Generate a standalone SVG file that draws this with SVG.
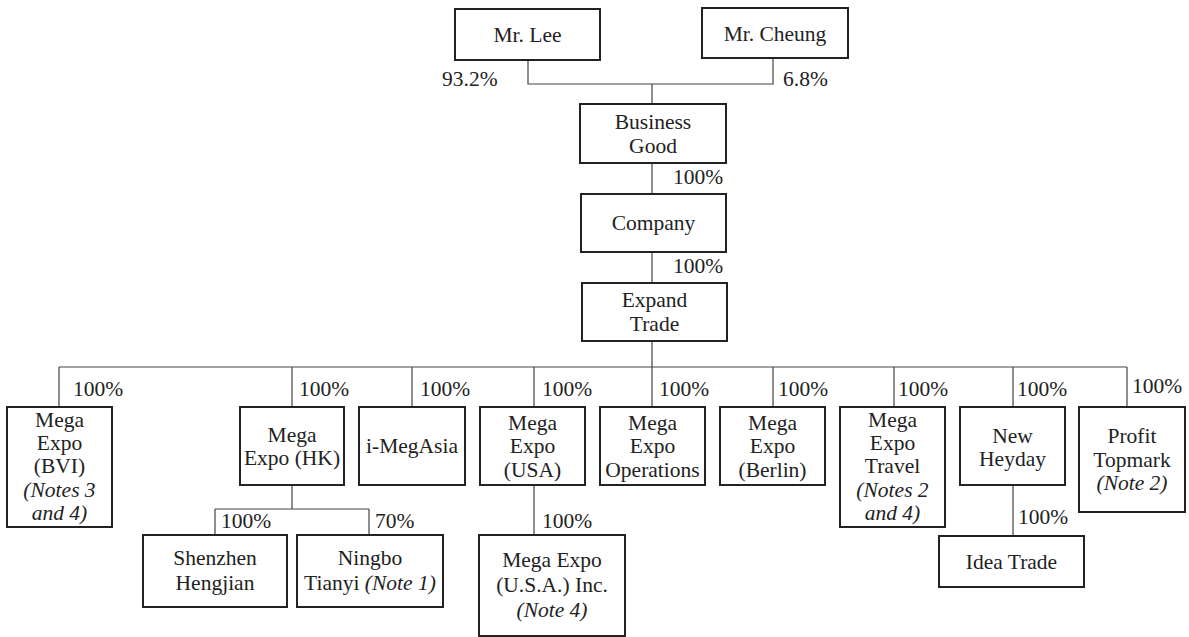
<svg xmlns="http://www.w3.org/2000/svg" width="1189" height="637" viewBox="0 0 1189 637">
<style>
.box{fill:#fff;stroke:#222;stroke-width:2}
.ln{fill:none;stroke:#444;stroke-width:1.2}
text{font-family:"Liberation Serif","Times New Roman",serif;font-size:21.5px;fill:#222}
.c{text-anchor:middle}
.i{font-style:italic}
</style>
<rect width="1189" height="637" fill="#fff"/>
<g id="connectors">
<path class="ln" d="M528,60V84H773V58M652,84V104M652,163V194M652,252V283M652,341V367M59,367H1127M59,367V407M292,367V407M412,367V407M534,367V407M652,367V407M773,367V407M894,367V407M1013,367V407M1127,367V407M292,485V509M215,509H369M215,509V535M369,509V535M534,485V535M1013,485V536"/>
<text x="442" y="86">93.2%</text>
<text x="783" y="86">6.8%</text>
<text x="673" y="184">100%</text>
<text x="673" y="273">100%</text>
<text x="73" y="396">100%</text>
<text x="299" y="396">100%</text>
<text x="420" y="396">100%</text>
<text x="542" y="396">100%</text>
<text x="659" y="396">100%</text>
<text x="778" y="396">100%</text>
<text x="898" y="396">100%</text>
<text x="1017" y="396">100%</text>
<text x="1132" y="393">100%</text>
<text x="221" y="528">100%</text>
<text x="375" y="528">70%</text>
<text x="542" y="528">100%</text>
<text x="1018" y="524">100%</text>
</g>
<g id="lee"><rect class="box" x="455" y="9" width="145" height="51"/><text class="c" x="527.5" y="42">Mr. Lee</text></g>
<g id="cheung"><rect class="box" x="702" y="8" width="146" height="50"/><text class="c" x="775" y="41">Mr. Cheung</text></g>
<g id="business-good"><rect class="box" x="580" y="104" width="146" height="59"/><text class="c" x="653" y="129">Business</text><text class="c" x="653" y="153">Good</text></g>
<g id="company"><rect class="box" x="581" y="194" width="145" height="58"/><text class="c" x="653.5" y="230">Company</text></g>
<g id="expand-trade"><rect class="box" x="582" y="283" width="145" height="58"/><text class="c" x="654.5" y="307">Expand</text><text class="c" x="654.5" y="331">Trade</text></g>
<g id="mega-expo-bvi"><rect class="box" x="7" y="407" width="105" height="120"/><text class="c" x="59.5" y="427">Mega</text><text class="c" x="59.5" y="450">Expo</text><text class="c" x="59.5" y="473">(BVI)</text><text class="c i" x="59.5" y="497">(Notes 3</text><text class="c i" x="59.5" y="520">and 4)</text></g>
<g id="mega-expo-hk"><rect class="box" x="240" y="407" width="104" height="78"/><text class="c" x="292" y="442">Mega</text><text class="c" x="292" y="465">Expo (HK)</text></g>
<g id="i-megasia"><rect class="box" x="359" y="407" width="106" height="78"/><text class="c" x="412" y="453">i-MegAsia</text></g>
<g id="mega-expo-usa"><rect class="box" x="480" y="407" width="105" height="78"/><text class="c" x="532.5" y="430">Mega</text><text class="c" x="532.5" y="453">Expo</text><text class="c" x="532.5" y="477">(USA)</text></g>
<g id="mega-expo-operations"><rect class="box" x="600" y="407" width="105" height="78"/><text class="c" x="652.5" y="430">Mega</text><text class="c" x="652.5" y="453">Expo</text><text class="c" x="652.5" y="477">Operations</text></g>
<g id="mega-expo-berlin"><rect class="box" x="720" y="407" width="105" height="78"/><text class="c" x="772.5" y="430">Mega</text><text class="c" x="772.5" y="453">Expo</text><text class="c" x="772.5" y="477">(Berlin)</text></g>
<g id="mega-expo-travel"><rect class="box" x="840" y="407" width="105" height="120"/><text class="c" x="892.5" y="427">Mega</text><text class="c" x="892.5" y="450">Expo</text><text class="c" x="892.5" y="473">Travel</text><text class="c i" x="892.5" y="497">(Notes 2</text><text class="c i" x="892.5" y="520">and 4)</text></g>
<g id="new-heyday"><rect class="box" x="960" y="407" width="105" height="78"/><text class="c" x="1012.5" y="443">New</text><text class="c" x="1012.5" y="466">Heyday</text></g>
<g id="profit-topmark"><rect class="box" x="1079" y="407" width="106" height="105"/><text class="c" x="1132" y="443">Profit</text><text class="c" x="1132" y="467">Topmark</text><text class="c i" x="1132" y="490">(Note 2)</text></g>
<g id="shenzhen-hengjian"><rect class="box" x="143" y="535" width="144" height="72"/><text class="c" x="215" y="565">Shenzhen</text><text class="c" x="215" y="590">Hengjian</text></g>
<g id="ningbo-tianyi"><rect class="box" x="297" y="535" width="146" height="72"/><text class="c" x="370" y="565">Ningbo</text><text class="c" x="370" y="590">Tianyi <tspan class="i">(Note 1)</tspan></text></g>
<g id="mega-expo-usa-inc"><rect class="box" x="479" y="535" width="146" height="101"/><text class="c" x="552" y="567">Mega Expo</text><text class="c" x="552" y="592">(U.S.A.) Inc.</text><text class="c i" x="552" y="617">(Note 4)</text></g>
<g id="idea-trade"><rect class="box" x="939" y="536" width="145" height="51"/><text class="c" x="1011.5" y="569">Idea Trade</text></g>
</svg>
